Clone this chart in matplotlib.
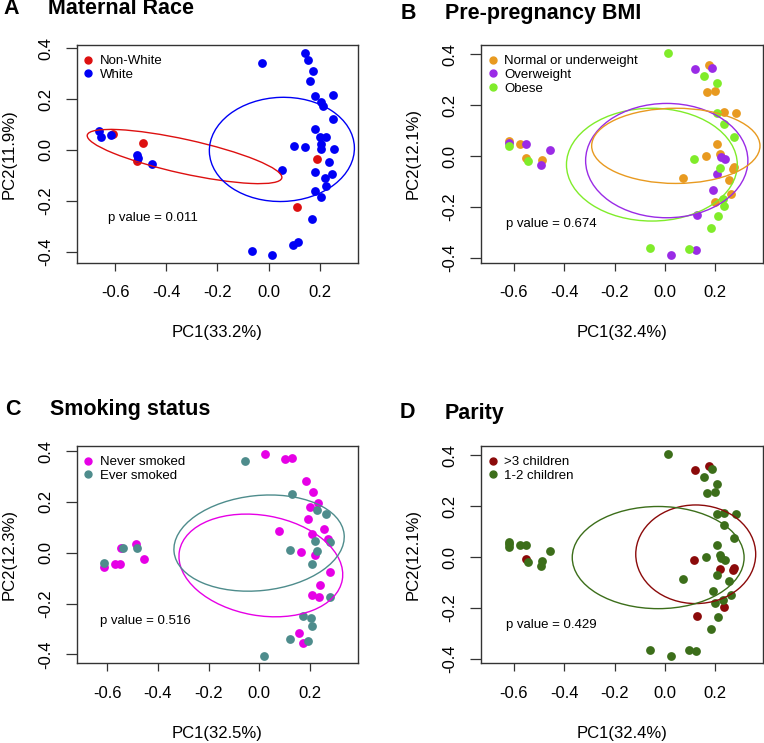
import matplotlib
matplotlib.use("Agg")
import matplotlib.pyplot as plt
from matplotlib.patches import Ellipse
from matplotlib.lines import Line2D

plt.rcParams["font.family"] = ["Liberation Sans", "DejaVu Sans"]

# ---- Panel A: maternal race (PC1 33.2%, PC2 11.9%) ----
race_nonwhite_pc1 = [-0.611, -0.490, -0.516, 0.191, 0.112]
race_nonwhite_pc2 = [0.063, 0.029, -0.043, -0.035, -0.226]
race_white_pc1 = [-0.663, -0.657, -0.617, -0.516, -0.512, -0.458, -0.024, 0.141, 0.156,
                  0.173, 0.163, 0.182, 0.206, 0.212, 0.253, 0.254, 0.182, 0.202, 0.224,
                  0.204, 0.204, 0.258, 0.100, 0.143, 0.238, 0.183, 0.054, 0.221, 0.250,
                  0.181, 0.224, 0.204, 0.169, 0.097, 0.114, -0.066, 0.015]
race_white_pc2 = [0.075, 0.052, 0.059, -0.020, -0.030, -0.055, 0.344, 0.381, 0.354,
                  0.311, 0.270, 0.213, 0.190, 0.171, 0.218, 0.123, 0.081, 0.052, 0.050,
                  0.024, 0.003, 0.003, 0.016, 0.013, -0.049, -0.085, -0.079, -0.109, -0.096,
                  -0.160, -0.144, -0.186, -0.273, -0.374, -0.361, -0.398, -0.413]

# ---- Panels B and D share one PCA (PC1 32.4%, PC2 12.1%) ----
bd_pc1 = [-0.619, -0.620, -0.619, -0.575, -0.552, -0.550, -0.544, -0.493, -0.487, -0.456,
          0.012, 0.118, 0.175, 0.188, 0.155, 0.205, 0.168, 0.197, 0.205, 0.234,
          0.280, 0.234, 0.274, 0.205, 0.161, 0.115, 0.218, 0.224, 0.238, 0.218,
          0.274, 0.270, 0.205, 0.071, 0.254, 0.192, 0.263, 0.230, 0.197, 0.234,
          0.126, 0.212, 0.181, -0.061, 0.095, 0.122, 0.022]
bd_pc2 = [0.059, 0.050, 0.041, 0.047, 0.047, -0.009, -0.020, -0.035, -0.016, 0.024,
          0.404, 0.341, 0.357, 0.348, 0.315, 0.286, 0.251, 0.257, 0.168, 0.172,
          0.171, 0.125, 0.076, 0.046, 0.000, -0.010, 0.008, -0.003, -0.013, -0.046,
          -0.042, -0.052, -0.071, -0.088, -0.094, -0.133, -0.151, -0.168, -0.182, -0.196,
          -0.232, -0.236, -0.282, -0.364, -0.367, -0.370, -0.390]
bd_bmi = list("NOBNONBONO" "BONOBBNNBN" "NBBNNBNOOB" "NNONNONBNB" "OBBBBOO")
bd_parity = list("LLLLLHLLLL" "LHHLLLLLLL" "LLLLLHLLLH" "HHLLLLLLLH" "HLLLLLL")

# ---- Panel C: smoking (PC1 32.5%, PC2 12.3%) ----
smk_never_pc1 = [0.022, 0.101, 0.127, 0.183, 0.210, 0.200, 0.233, 0.191, 0.255, 0.269,
                 0.078, 0.206, 0.164, 0.219, -0.488, -0.545, -0.453, -0.569, -0.549, -0.612,
                 0.279, 0.239, 0.206, 0.235, 0.158, 0.173]
smk_never_pc2 = [0.389, 0.367, 0.371, 0.283, 0.238, 0.181, 0.197, 0.133, 0.093, 0.056,
                 0.087, 0.072, 0.001, -0.007, 0.034, 0.020, -0.025, -0.046, -0.046, -0.058,
                 -0.075, -0.125, -0.167, -0.173, -0.315, -0.357]
smk_ever_pc1 = [-0.057, 0.130, 0.229, 0.263, 0.219, 0.279, 0.121, 0.226, 0.206, -0.612,
                -0.538, -0.484, 0.279, 0.173, 0.202, 0.206, 0.121, 0.191, 0.020]
smk_ever_pc2 = [0.362, 0.231, 0.168, 0.152, 0.047, 0.043, 0.010, 0.007, -0.046, -0.039,
                0.020, 0.020, -0.173, -0.249, -0.256, -0.289, -0.340, -0.346, -0.405]

# ellipses: (cx, cy, semi-x, semi-y, angle deg)
ell_race = {"Non-White": (-0.329, -0.026, 0.390, 0.067, -12.5),
            "White": (0.052, 0.002, 0.284, 0.205, 2)}
ell_bmi = {"N": (0.043, 0.040, 0.334, 0.148, 0),
           "O": (0.007, -0.018, 0.322, 0.225, 0),
           "B": (-0.052, -0.034, 0.339, 0.222, 0)}
ell_smk = {"never": (0.006, -0.050, 0.326, 0.197, -10),
           "ever": (-0.001, 0.038, 0.337, 0.187, 6)}
ell_par = {"H": (0.122, 0.011, 0.238, 0.194, 0),
           "L": (-0.027, -0.002, 0.341, 0.201, 0)}

W, H = 764, 743
fig = plt.figure(figsize=(W / 100, H / 100), dpi=100)


def make_ax(l, t, r, b):
    return fig.add_axes([l / W, 1 - b / H, (r - l) / W, (b - t) / H])


def style(ax, xlim, ylim, xlab, ylab):
    ax.set_xlim(*xlim)
    ax.set_ylim(*ylim)
    ax.set_xticks([-0.6, -0.4, -0.2, 0.0, 0.2])
    ax.set_yticks([-0.4, -0.2, 0.0, 0.2, 0.4])
    ax.set_xticklabels(["-0.6", "-0.4", "-0.2", "0.0", "0.2"])
    ax.set_yticklabels(["-0.4", "-0.2", "0.0", "0.2", "0.4"], rotation=90, va="center")
    ax.tick_params(axis="x", length=6, width=0.9, pad=10, labelsize=12, color="#333333")
    ax.tick_params(axis="y", length=8, width=0.9, pad=9, labelsize=12, color="#333333")
    for sp in ax.spines.values():
        sp.set_linewidth(1.0)
        sp.set_color("#333333")
    ax.set_xlabel(xlab, fontsize=12)
    ax.set_ylabel(ylab, fontsize=12)
    ax.xaxis.label.set_va("center")
    ax.yaxis.label.set_va("center")
    ax.xaxis.set_label_coords(0.5, -70 / 217.7)
    ax.yaxis.set_label_coords(-68 / 281.5, 0.5)


def ellipse(ax, p, c):
    cx, cy, a, b, ang = p
    ax.add_patch(Ellipse((cx, cy), 2 * a, 2 * b, angle=ang, fill=False,
                         edgecolor=c, lw=1.0, zorder=4))


def legend(ax, labels, colors):
    hs = [Line2D([], [], marker="o", ls="", color=c, markersize=5) for c in colors]
    ax.legend(hs, labels, loc="upper left", bbox_to_anchor=(0, 1 - 4 / 217.7),
              frameon=False, fontsize=9.5, handlelength=0.8, handletextpad=0.5,
              borderpad=0.45, borderaxespad=0, labelspacing=0.12)


def pval(ax, txt, dx, dy):
    ax.text(dx / 281.5, 1 - dy / 217.7, txt, transform=ax.transAxes,
            fontsize=9.5, va="center", ha="left")


S = 40

# A
ax = make_ax(77, 45, 358, 262.7)
c_red, c_blue = "#DD1010", "#0000F5"
ax.scatter(race_nonwhite_pc1, race_nonwhite_pc2, s=S, color=c_red, lw=0, zorder=2)
ax.scatter(race_white_pc1, race_white_pc2, s=S, color=c_blue, lw=0, zorder=3)
ellipse(ax, ell_race["Non-White"], c_red)
ellipse(ax, ell_race["White"], c_blue)
style(ax, (-0.75, 0.35), (-0.444, 0.413), "PC1(33.2%)", "PC2(11.9%)")
legend(ax, ["Non-White", "White"], [c_red, c_blue])
pval(ax, "p value = 0.011", 31, 173)

# B
ax = make_ax(481.3, 45, 763, 262.7)
bmi_names = {"N": "Normal or underweight", "O": "Overweight", "B": "Obese"}
bmi_cols = {"N": "#E89A20", "O": "#9A2BE6", "B": "#80EC2A"}
for g in ["N", "O", "B"]:
    xs = [x for x, k in zip(bd_pc1, bd_bmi) if k == g]
    ys = [y for y, k in zip(bd_pc2, bd_bmi) if k == g]
    ax.scatter(xs, ys, s=S, color=bmi_cols[g], lw=0, zorder=2)
for g in ["B", "O", "N"]:
    ellipse(ax, ell_bmi[g], bmi_cols[g])
style(ax, (-0.729, 0.389), (-0.42, 0.437), "PC1(32.4%)", "PC2(12.1%)")
legend(ax, [bmi_names[g] for g in "NOB"], [bmi_cols[g] for g in "NOB"])
pval(ax, "p value = 0.674", 24.7, 179)

# C
ax = make_ax(76.7, 446, 358, 663.3)
c_mag, c_teal = "#E600E6", "#4E8C8C"
ax.scatter(smk_never_pc1, smk_never_pc2, s=S, color=c_mag, lw=0, zorder=2)
ax.scatter(smk_ever_pc1, smk_ever_pc2, s=S, color=c_teal, lw=0, zorder=3)
ellipse(ax, ell_smk["never"], c_mag)
ellipse(ax, ell_smk["ever"], c_teal)
style(ax, (-0.72, 0.389), (-0.435, 0.42), "PC1(32.5%)", "PC2(12.3%)")
legend(ax, ["Never smoked", "Ever smoked"], [c_mag, c_teal])
pval(ax, "p value = 0.516", 23.3, 175)

# D
ax = make_ax(481.3, 446, 763, 663.3)
par_names = {"H": ">3 children", "L": "1-2 children"}
par_cols = {"H": "#8B0A0A", "L": "#3C6E1A"}
for g in ["H", "L"]:
    xs = [x for x, k in zip(bd_pc1, bd_parity) if k == g]
    ys = [y for y, k in zip(bd_pc2, bd_parity) if k == g]
    ax.scatter(xs, ys, s=S, color=par_cols[g], lw=0, zorder=2)
    ellipse(ax, ell_par[g], par_cols[g])
style(ax, (-0.729, 0.389), (-0.418, 0.437), "PC1(32.4%)", "PC2(12.1%)")
legend(ax, [par_names[g] for g in "HL"], [par_cols[g] for g in "HL"])
pval(ax, "p value = 0.429", 24.7, 179)

# panel titles
titles = [("A", "Maternal Race", 3, 48, 9),
          ("B", "Pre-pregnancy BMI", 401, 445, 13.3),
          ("C", "Smoking status", 5, 50, 409.7),
          ("D", "Parity", 400, 445, 413)]
for letter, name, xl, xt, yc in titles:
    fig.text(xl / W, 1 - yc / H, letter, fontsize=15.5, fontweight="bold", va="center")
    fig.text(xt / W, 1 - yc / H, name, fontsize=15.5, fontweight="bold", va="center")

fig.savefig("out.png", dpi=100)
